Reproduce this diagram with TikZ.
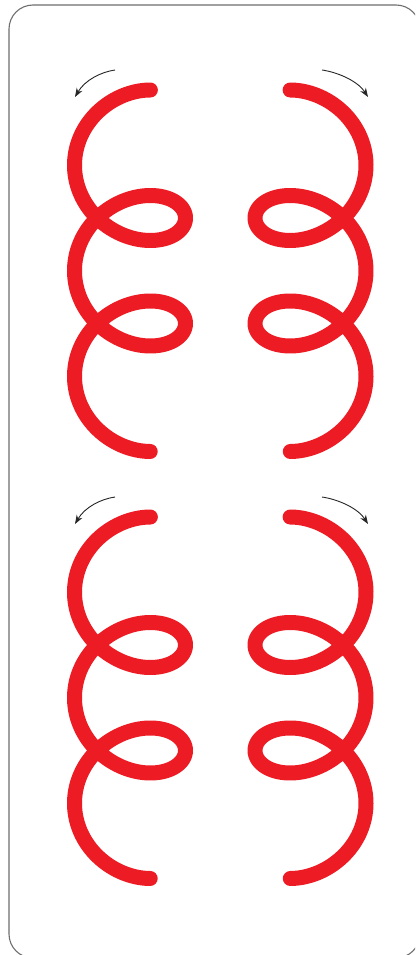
\documentclass[tikz,border=0pt]{standalone}
\usetikzlibrary{arrows.meta}
\definecolor{coilred}{RGB}{237,28,36}
\definecolor{framegray}{RGB}{110,110,110}
\tikzset{
  coilline/.style={draw=coilred, line width=15pt, line cap=round, line join=round},
  turnarrow/.style={draw=black!85, line width=0.9pt, -{Stealth[length=9pt,width=6.5pt]}},
  frameline/.style={draw=framegray, line width=1.1pt, rounded corners=24pt}
}
\begin{document}
\begin{tikzpicture}[x=1pt,y=-1pt]
\clip (0,0) rectangle (415,955);
\fill[white] (0,0) rectangle (415,955);
\draw[frameline] (9,5) rectangle (420,958);
\foreach \dy in {0,427}{
  \begin{scope}[shift={(0,\dy)}]
    \draw[coilline] plot[domain=1.195:17.6546, samples=400, smooth, variable=\t]
      ({130+55.5*cos(\t r)}, {112.5-45.75*sin(\t r)+16.79*\t});
    \coordinate (la) at (115,70);
    \coordinate (lb) at (75,97);
    \draw[turnarrow] (la) .. controls (101,72) and (85,80) .. (lb);
  \end{scope}
  \begin{scope}[shift={(440.5,\dy)}, xscale=-1]
    \draw[coilline] plot[domain=1.195:17.6546, samples=400, smooth, variable=\t]
      ({130+55.5*cos(\t r)}, {112.5-45.75*sin(\t r)+16.79*\t});
  \end{scope}
  \begin{scope}[shift={(0,\dy)}]
    \coordinate (ra) at (322,70);
    \coordinate (rb) at (368,97);
    \draw[turnarrow] (ra) .. controls (336,72) and (357,80) .. (rb);
  \end{scope}
}
\end{tikzpicture}
\end{document}
